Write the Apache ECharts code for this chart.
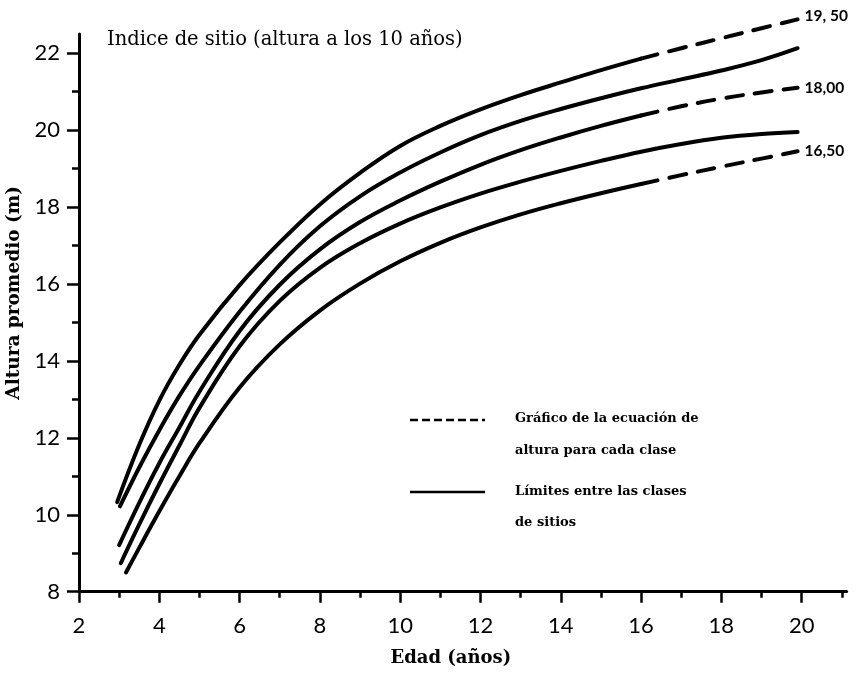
<!DOCTYPE html>
<html>
<head>
<meta charset="utf-8">
<script src="https://cdn.jsdelivr.net/npm/echarts@6/dist/echarts.min.js"></script>
<style>html,body{margin:0;padding:0;background:#fff}#c{width:856px;height:676px}</style>
</head>
<body>
<div id="c"></div>
<script>
// ---- data ----
const ages = [3.5, 4, 4.5, 5, 6, 7, 8, 9, 10, 11, 12, 13, 14, 15, 16, 17, 18, 19, 19.9];
const startAge = [2.95, 3.02, 3.0, 3.04, 3.17];
const startHeight = [10.33, 10.22, 9.21, 8.74, 8.5];
const h1950 = [11.82, 12.97, 13.9, 14.68, 15.97, 17.08, 18.07, 18.89, 19.59, 20.11, 20.54, 20.91, 21.24, 21.56, 21.86, 22.13, 22.39, 22.65, 22.88];
const hLimitUpper = [11.23, 12.2, 13.09, 13.88, 15.28, 16.5, 17.5, 18.28, 18.9, 19.42, 19.87, 20.24, 20.55, 20.83, 21.09, 21.32, 21.55, 21.82, 22.13];
const h1800 = [10.31, 11.34, 12.27, 13.2, 14.78, 15.98, 16.9, 17.61, 18.17, 18.66, 19.1, 19.48, 19.81, 20.11, 20.38, 20.62, 20.82, 20.98, 21.1];
const hLimitLower = [9.75, 10.8, 11.8, 12.78, 14.38, 15.56, 16.42, 17.06, 17.57, 17.99, 18.35, 18.66, 18.94, 19.2, 19.44, 19.64, 19.8, 19.9, 19.95];
const h1650 = [9.14, 10.09, 11.0, 11.86, 13.31, 14.43, 15.31, 16.01, 16.59, 17.07, 17.47, 17.81, 18.1, 18.36, 18.6, 18.83, 19.05, 19.26, 19.45];
const classLabels = ['19, 50', '18,00', '16,50'];
const equationFrom = 16; // age where the class curves turn dashed
const xMajorTicks = [2, 4, 6, 8, 10, 12, 14, 16, 18, 20];
const xMinorTicks = [3, 5, 7, 9, 11, 13, 15, 17, 19, 21];
const yMajorTicks = [8, 10, 12, 14, 16, 18, 20, 22];
const yMinorTicks = [9, 11, 13, 15, 17, 19, 21];
const titleText = 'Indice de sitio (altura a los 10 años)';
const xName = 'Edad (años)';
const yName = 'Altura promedio (m)';
const legendDashed = ['Gráfico de la ecuación de', 'altura para cada clase'];
const legendSolid = ['Límites entre las clases', 'de sitios'];

// ---- build ----
const curves = [h1950, hLimitUpper, h1800, hLimitLower, h1650];
function pts(i) {
  const p = [[startAge[i], startHeight[i]]];
  ages.forEach((a, k) => p.push([a, curves[i][k]]));
  return p;
}
const SERIF = "'DejaVu Serif', 'Liberation Serif', serif";
const baseLine = { color: '#000', width: 4, cap: 'round', join: 'round' };
const SM = 0.4;
const series = [];
[0, 1, 2, 3, 4].forEach(i => {
  const p = pts(i);
  const isClass = (i % 2 === 0);
  if (!isClass) {
    series.push({ type: 'line', data: p, smooth: SM, showSymbol: false, clip: false,
      lineStyle: baseLine, silent: true });
  } else {
    const solid = p.filter(d => d[0] <= equationFrom);
    const dashed = p.filter(d => d[0] >= equationFrom);
    series.push({ type: 'line', data: solid, smooth: SM, showSymbol: false, clip: false,
      lineStyle: baseLine, silent: true });
    series.push({ type: 'line', data: dashed, smooth: SM, showSymbol: false, clip: false,
      lineStyle: Object.assign({}, baseLine, { type: [17, 12] }), silent: true,
      endLabel: { show: true, formatter: classLabels[i / 2], distance: 7,
        fontFamily: 'Lato', fontWeight: 'bold', fontSize: 15.5, color: '#000',
        offset: i === 0 ? [0, -3] : [0, 0] } });
  }
});

const tickLine = { color: '#000', width: 2.5 };
const chart = echarts.init(document.getElementById('c'), null, { renderer: 'canvas' });
chart.setOption({
  animation: false,
  backgroundColor: '#fff',
  title: { text: titleText, left: 102, top: 25,
    textStyle: { fontFamily: SERIF, fontSize: 19.5, fontWeight: 'normal', color: '#000' } },
  grid: { left: 79, right: 9.4, top: 34, bottom: 84.3, containLabel: false, outerBoundsMode: 'none' },
  xAxis: [{
    type: 'value', min: 2, max: 21.12,
    axisLine: { show: true, onZero: false, lineStyle: { color: '#000', width: 3 } },
    axisTick: { show: true, length: 11, lineStyle: tickLine, customValues: xMajorTicks },
    axisLabel: { customValues: xMajorTicks, margin: 23, fontFamily: 'Lato', fontSize: 22, color: '#000' },
    splitLine: { show: false },
    name: xName, nameLocation: 'middle', nameGap: 58,
    nameTextStyle: { fontFamily: SERIF, fontWeight: 'bold', fontSize: 18, color: '#000', padding: [0, 24, 0, 0] }
  }, {
    type: 'value', min: 2, max: 21.12, position: 'bottom',
    axisLine: { show: false },
    axisTick: { show: true, length: 6, lineStyle: tickLine, customValues: xMinorTicks },
    axisLabel: { show: false }, splitLine: { show: false }
  }],
  yAxis: [{
    type: 'value', min: 8, max: 22.5,
    axisLine: { show: true, onZero: false, lineStyle: { color: '#000', width: 3 } },
    axisTick: { show: true, length: 12, lineStyle: tickLine, customValues: yMajorTicks },
    axisLabel: { customValues: yMajorTicks, margin: 19, fontFamily: 'Lato', fontSize: 22, color: '#000' },
    splitLine: { show: false },
    name: yName, nameLocation: 'middle', nameGap: 52,
    nameTextStyle: { fontFamily: SERIF, fontWeight: 'bold', fontSize: 18.5, color: '#000', padding: [0, 0, 0, 40] }
  }, {
    type: 'value', min: 8, max: 22.5, position: 'left', offset: 0,
    axisLine: { show: false },
    axisTick: { show: true, length: 7, lineStyle: tickLine, customValues: yMinorTicks },
    axisLabel: { show: false }, splitLine: { show: false }
  }],
  series: series,
  graphic: [
    { type: 'line', shape: { x1: 410, y1: 420, x2: 485, y2: 420 },
      style: { stroke: '#000', lineWidth: 2.5, lineDash: [8, 4] } },
    { type: 'line', shape: { x1: 410, y1: 492, x2: 485, y2: 492 },
      style: { stroke: '#000', lineWidth: 2.5 } },
    { type: 'text', x: 515, y: 419, style: { text: legendDashed[0], font: "bold 13px 'DejaVu Serif'", fill: '#000', verticalAlign: 'middle' } },
    { type: 'text', x: 515, y: 451, style: { text: legendDashed[1], font: "bold 13px 'DejaVu Serif'", fill: '#000', verticalAlign: 'middle' } },
    { type: 'text', x: 515, y: 492, style: { text: legendSolid[0], font: "bold 13px 'DejaVu Serif'", fill: '#000', verticalAlign: 'middle' } },
    { type: 'text', x: 515, y: 523, style: { text: legendSolid[1], font: "bold 13px 'DejaVu Serif'", fill: '#000', verticalAlign: 'middle' } }
  ]
});
</script>
</body>
</html>
